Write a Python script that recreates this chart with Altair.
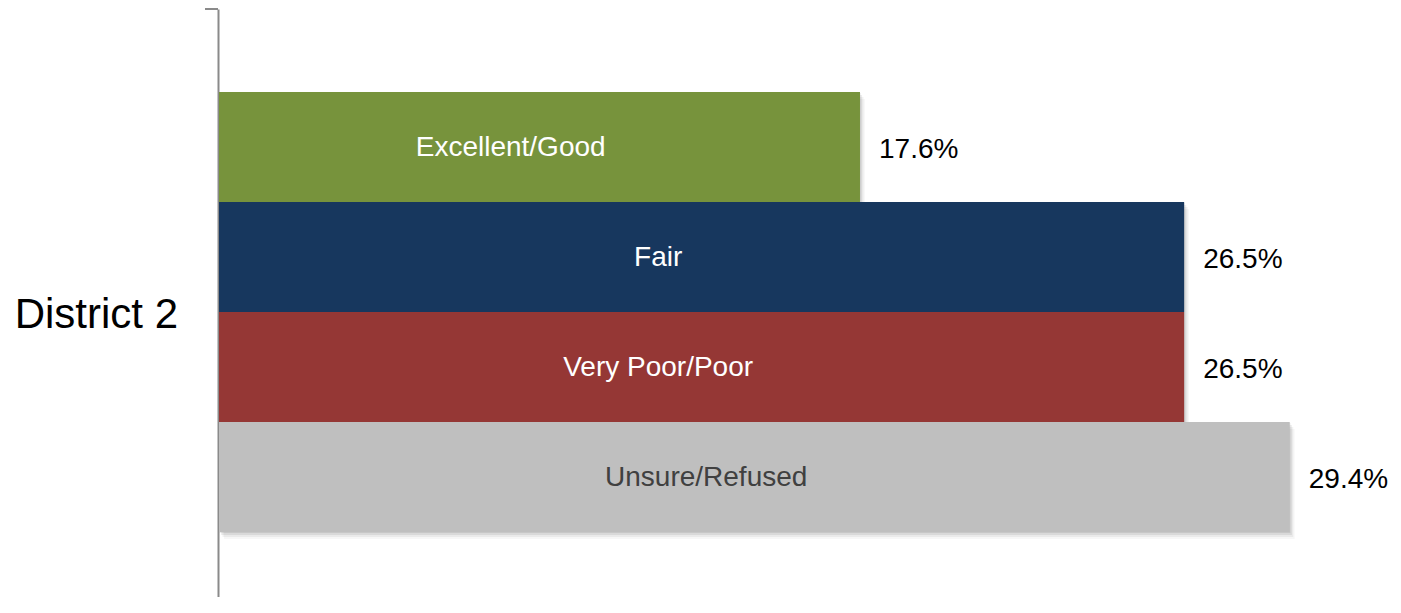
import altair as alt
import pandas as pd

district = "District 2"
categories = ["Excellent/Good", "Fair", "Very Poor/Poor", "Unsure/Refused"]
values = [17.6, 26.5, 26.5, 29.4]
palette = ["#77933c", "#17375e", "#953735", "#bfbfbf"]

df = pd.DataFrame({"category": categories, "value": values})
df["label"] = df["value"].map(lambda v: f"{v:.1f}%")

FONT = "Liberation Sans"
W, H = 1170, 588
XMAX = W / 36.42

xscale = alt.Scale(domain=[0, XMAX], nice=False, zero=True)
x = alt.X("value:Q", scale=xscale, axis=None)
y = alt.Y(
    "category:N",
    sort=categories,
    scale=alt.Scale(paddingInner=0, paddingOuter=0.6727, align=0.561),
    axis=alt.Axis(
        title=None, ticks=False, labels=False, domain=True, domainColor="#8a8a8a",
        domainWidth=2, offset=1, grid=False,
    ),
)

base = alt.Chart(df)

shadows = []
for off, op in [(1, 0.08), (3, 0.07), (5, 0.05), (7, 0.03)]:
    shadows.append(
        base.mark_bar(color="#000000", opacity=op, xOffset=off * 0.7, x2Offset=off * 0.7 + 2,
                      yOffset=off, y2Offset=off)
        .encode(x=x, y=y)
    )

bars = base.mark_bar().encode(
    x=x, y=y,
    color=alt.Color("category:N", scale=alt.Scale(domain=categories, range=palette), legend=None),
)

inner = base.transform_calculate(mid="datum.value * 0.455").mark_text(
    font=FONT, fontSize=28, baseline="middle", align="center", dy=1
).encode(
    x=alt.X("mid:Q", scale=xscale, axis=None),
    y=y,
    text="category:N",
    color=alt.condition(alt.datum.category == "Unsure/Refused", alt.value("#404040"), alt.value("#ffffff")),
)

vals = base.mark_text(
    font=FONT, fontSize=28, baseline="middle", align="left", dx=19, dy=3, color="#000000"
).encode(x=x, y=y, text="label:N")

one = pd.DataFrame({"district": [district]})
dist_label = alt.Chart(one).mark_text(
    font=FONT, fontSize=42, baseline="middle", align="right", color="#000000"
).encode(x=alt.value(-41), y=alt.value(306), text="district:N")

tick = alt.Chart(one).mark_rule(color="#8a8a8a", strokeWidth=2).encode(
    x=alt.value(-14), x2=alt.value(-1), y=alt.value(0)
)

chart = alt.layer(*shadows, bars, inner, vals, dist_label, tick).properties(
    width=W, height=H,
    padding={"left": 211, "top": 1, "right": 2, "bottom": 0},
    autosize=alt.AutoSizeParams(type="none"),
).configure_view(stroke=None)

chart.save("out.html", embed_options={"renderer": "svg", "actions": False})
